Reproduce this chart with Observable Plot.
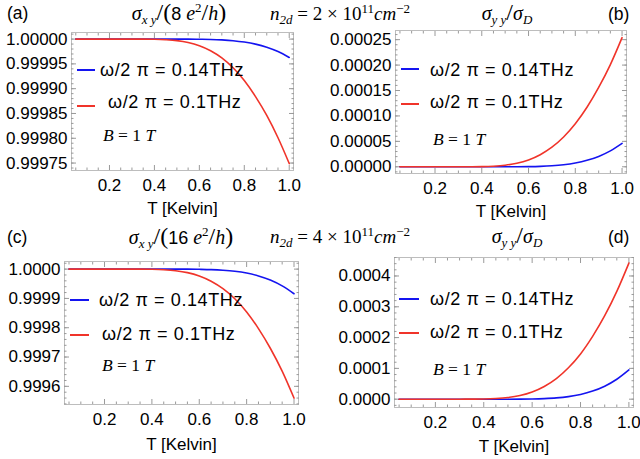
<!DOCTYPE html>
<html><head><meta charset="utf-8">
<script src="https://cdn.jsdelivr.net/npm/d3@7"></script>
<script src="https://cdn.jsdelivr.net/npm/@observablehq/plot@0.6"></script>
<style>
body{margin:0;background:#fff;}
#root{position:relative;width:640px;height:459px;overflow:hidden;background:#fff;}
#root svg.panel{position:absolute;}
.sw{position:absolute;height:0;border-top:2px solid;}
</style></head><body><div id="root"></div>
<script>
// Temperature grid (Kelvin)
const T = [0.05,0.10,0.15,0.20,0.25,0.30,0.35,0.40,0.45,0.50,0.55,0.60,0.65,0.70,0.75,0.80,0.85,0.90,0.95,1.00];

// (a) sigma_xy/(8e^2/h), n2d = 2e11
const sxyA_014 = [1,1,1,1,1,1,1,1,1,1,1,0.9999997,0.9999993,0.9999984,0.9999968,0.999994,0.9999898,0.9999836,0.9999748,0.999963];
const sxyA_01  = [1,1,1,1,1,1,1,0.9999997,0.9999988,0.999997,0.9999932,0.9999866,0.9999765,0.999962,0.9999421,0.9999164,0.999884,0.999846,0.999801,0.999749];
// (b) sigma_yy/sigma_D, n2d = 2e11
const syyB_014 = [0,0,0,0,0,0,0,0,0,0,0.0000001,0.00000035,0.0000009,0.000002,0.000004,0.0000074,0.0000127,0.0000204,0.0000313,0.000046];
const syyB_01  = [0,0,0,0,0,0,0.0000001,0.00000035,0.0000012,0.0000031,0.0000069,0.0000135,0.0000238,0.0000385,0.0000586,0.0000846,0.000117,0.000156,0.000201,0.000254];
// (c) sigma_xy/(16e^2/h), n2d = 4e11
const sxyC_014 = [1,1,1,1,1,1,1,1,1,1,1,0.9999994,0.9999984,0.9999963,0.9999927,0.9999865,0.9999768,0.9999627,0.9999427,0.999916];
const sxyC_01  = [1,1,1,1,1,1,1,0.9999994,0.9999979,0.9999946,0.9999881,0.9999766,0.9999588,0.9999333,0.999899,0.999854,0.999797,0.99973,0.999652,0.99956];
// (d) sigma_yy/sigma_D, n2d = 4e11
const syyD_014 = [0,0,0,0,0,0,0,0,0,0,0.0000002,0.0000007,0.0000019,0.0000041,0.0000083,0.0000153,0.0000263,0.0000422,0.0000647,0.000095];
const syyD_01  = [0,0,0,0,0,0,0.0000002,0.0000006,0.0000021,0.0000054,0.000012,0.0000235,0.0000414,0.000067,0.000102,0.000147,0.000204,0.000271,0.00035,0.000442];

// Ticks
const xTicks = [0.2,0.4,0.6,0.8,1.0];
const xMinor = [0.05,0.1,0.15,0.25,0.3,0.35,0.45,0.5,0.55,0.65,0.7,0.75,0.85,0.9,0.95];
const yTicksA = [0.99975,0.9998,0.99985,0.9999,0.99995,1.0];
const yTicksB = [0,0.00005,0.0001,0.00015,0.0002,0.00025];
const yTicksC = [0.9996,0.9997,0.9998,0.9999,1.0];
const yTicksD = [0,0.0001,0.0002,0.0003,0.0004];

const legendLabels = ["ω/2 π = 0.14THz", "ω/2 π = 0.1THz"];
const seriesColors = ["rgb(20,20,240)", "rgb(240,52,42)"];

const xDomain = [0.031, 1.019];
const frameGray = "#bdbdbd";
const tickGray = "#9a9a9a";

function minorTicks(domain, step) {
  const lo = Math.ceil(domain[0] / step - 1e-9), hi = Math.floor(domain[1] / step + 1e-9);
  return d3.range(lo, hi + 1).map(i => +(i * step).toPrecision(12));
}

function panel(cfg) {
  const yMin = minorTicks(cfg.yDomain, cfg.yStep);
  const svg = Plot.plot({
    width: 320, height: cfg.h,
    marginLeft: cfg.mL, marginRight: cfg.mR, marginTop: cfg.mT, marginBottom: cfg.mB,
    style: {fontFamily: "Liberation Sans, Arial, sans-serif", fontSize: "17px", color: "#000", background: "transparent", overflow: "visible"},
    x: {domain: xDomain},
    y: {domain: cfg.yDomain},
    marks: [
      Plot.frame({stroke: frameGray}),
      Plot.axisX(xMinor, {anchor: "bottom", fill: "none", tickSize: -2.5, stroke: tickGray, label: null}),
      Plot.axisX(xMinor, {anchor: "top", fill: "none", tickSize: -2.5, stroke: tickGray, label: null}),
      Plot.axisX(xTicks, {anchor: "bottom", fill: "none", tickSize: -5, stroke: tickGray, label: null}),
      Plot.axisX(xTicks, {anchor: "top", fill: "none", tickSize: -5, stroke: tickGray, label: null}),
      Plot.axisY(yMin, {anchor: "left", fill: "none", tickSize: -2.5, stroke: tickGray, label: null}),
      Plot.axisY(yMin, {anchor: "right", fill: "none", tickSize: -2.5, stroke: tickGray, label: null}),
      Plot.axisY(cfg.yTicks, {anchor: "left", fill: "none", tickSize: -5, stroke: tickGray, label: null}),
      Plot.axisY(cfg.yTicks, {anchor: "right", fill: "none", tickSize: -5, stroke: tickGray, label: null}),
      Plot.axisX(xTicks, {anchor: "bottom", tickSize: 0, tickPadding: 8, tickFormat: d3.format(".1f"),
        label: "T [Kelvin]", labelAnchor: "center", labelArrow: "none", labelOffset: cfg.lo}),
      Plot.axisY(cfg.yTicks, {anchor: "left", tickSize: 0, tickPadding: 4, tickFormat: d3.format(cfg.fmt), label: null}),
      Plot.line(T, {x: T, y: cfg.blue, stroke: seriesColors[0], strokeWidth: 1.6, curve: "monotone-x"}),
      Plot.line(T, {x: T, y: cfg.red, stroke: seriesColors[1], strokeWidth: 1.6, curve: "monotone-x"})
    ]
  });
  svg.classList.add("panel");
  svg.style.left = cfg.left + "px";
  svg.style.top = cfg.top + "px";
  return svg;
}

const root = document.getElementById("root");
root.append(panel({left: 0, top: 0, h: 229, mL: 71, mR: 27, mT: 32, mB: 59, lo: 43,
  yDomain: [0.999735, 1.0000133], yTicks: yTicksA, yStep: 0.00001, fmt: ".5f", blue: sxyA_014, red: sxyA_01}));
root.append(panel({left: 320, top: 0, h: 229, mL: 75, mR: 14, mT: 30, mB: 56, lo: 43,
  yDomain: [-0.0000132, 0.000268], yTicks: yTicksB, yStep: 0.00001, fmt: ".5f", blue: syyB_014, red: syyB_01}));
root.append(panel({left: 0, top: 229, h: 230, mL: 64, mR: 22, mT: 32, mB: 55, lo: 45,
  yDomain: [0.999538, 1.000026], yTicks: yTicksC, yStep: 0.00002, fmt: ".4f", blue: sxyC_014, red: sxyC_01}));
root.append(panel({left: 320, top: 229, h: 230, mL: 74, mR: 7, mT: 28, mB: 52, lo: 44,
  yDomain: [-0.000027, 0.00046], yTicks: yTicksD, yStep: 0.00002, fmt: ".4f", blue: syyD_014, red: syyD_01}));

// Legend swatches (HTML)
const swatches = [
  {x: 77, w: 18, y: 70, c: 0}, {x: 77, w: 18, y: 106, c: 1},
  {x: 401, w: 18, y: 69, c: 0}, {x: 401, w: 18, y: 104, c: 1},
  {x: 70, w: 19, y: 300, c: 0}, {x: 70, w: 19, y: 335, c: 1},
  {x: 399, w: 20, y: 299, c: 0}, {x: 399, w: 20, y: 333, c: 1}
];
for (const s of swatches) {
  const d = document.createElement("div");
  d.className = "sw";
  d.style.left = s.x + "px"; d.style.top = (s.y - 1) + "px"; d.style.width = s.w + "px";
  d.style.borderTopColor = seriesColors[s.c];
  root.append(d);
}

// Text overlay
const ns = "http://www.w3.org/2000/svg";
const ov = document.createElementNS(ns, "svg");
ov.setAttribute("width", 640); ov.setAttribute("height", 459);
ov.style.cssText = "position:absolute;left:0;top:0;pointer-events:none";
const sans = "Liberation Sans, Arial, sans-serif", serif = "Liberation Serif, Times New Roman, serif";
function sigmaTitle(cx, y, sub, denom) {
  return `<text x="${cx}" y="${y}" text-anchor="middle" font-family="${serif}" font-size="20">` +
    `<tspan font-style="italic">σ</tspan><tspan font-style="italic" font-size="13" dy="4">${sub}</tspan>` +
    `<tspan dy="-4" font-size="24">/</tspan>${denom}</text>`;
}
function xyDenom(n) {
  return `<tspan font-size="24">(</tspan><tspan font-family="${sans}" font-size="18">${n}</tspan><tspan> </tspan>` +
    `<tspan font-style="italic">e</tspan><tspan font-size="13" dy="-8">2</tspan><tspan dy="8" font-size="24">/</tspan>` +
    `<tspan font-style="italic">h</tspan><tspan font-size="24">)</tspan>`;
}
const yyDenom = `<tspan font-style="italic">σ</tspan><tspan font-style="italic" font-size="13" dy="4">D</tspan>`;
function n2d(x, y, n) {
  return `<text x="${x}" y="${y}" font-family="${serif}" font-size="19"><tspan font-style="italic">n</tspan>` +
    `<tspan font-style="italic" font-size="13" dy="4">2d</tspan><tspan dy="-4"> = ${n} × 10</tspan>` +
    `<tspan font-size="13" dy="-7">11</tspan><tspan dy="7" font-style="italic">cm</tspan><tspan font-size="13" dy="-7">−2</tspan></text>`;
}
function legendText(x, y, s) {
  return `<text x="${x}" y="${y}" font-family="${sans}" font-size="18" letter-spacing="0.6">${s}</text>`;
}
function bText(x, y) {
  return `<text x="${x}" y="${y}" font-family="${serif}" font-size="17.5"><tspan font-style="italic">B</tspan> = 1 <tspan font-style="italic">T</tspan></text>`;
}
ov.innerHTML =
  `<text x="7" y="19" font-family="${sans}" font-size="17.5">(a)</text>` +
  `<text x="608" y="20" font-family="${sans}" font-size="17.5">(b)</text>` +
  `<text x="7" y="243" font-family="${sans}" font-size="17.5">(c)</text>` +
  `<text x="608" y="243" font-family="${sans}" font-size="17.5">(d)</text>` +
  sigmaTitle(179, 20, "x y", xyDenom("8")) +
  sigmaTitle(507, 20, "y y", yyDenom) +
  sigmaTitle(181, 244, "x y", xyDenom("16")) +
  sigmaTitle(517, 243, "y y", yyDenom) +
  n2d(270, 20, "2") + n2d(270, 243, "4") +
  legendText(100, 76, legendLabels[0]) + legendText(108, 108, legendLabels[1]) + bText(103, 141) +
  legendText(430, 76, legendLabels[0]) + legendText(430, 108, legendLabels[1]) + bText(433, 145) +
  legendText(99, 306, legendLabels[0]) + legendText(102, 340, legendLabels[1]) + bText(102, 371) +
  legendText(430, 305, legendLabels[0]) + legendText(430, 338, legendLabels[1]) + bText(433, 375);
root.append(ov);
</script>
</body></html>
